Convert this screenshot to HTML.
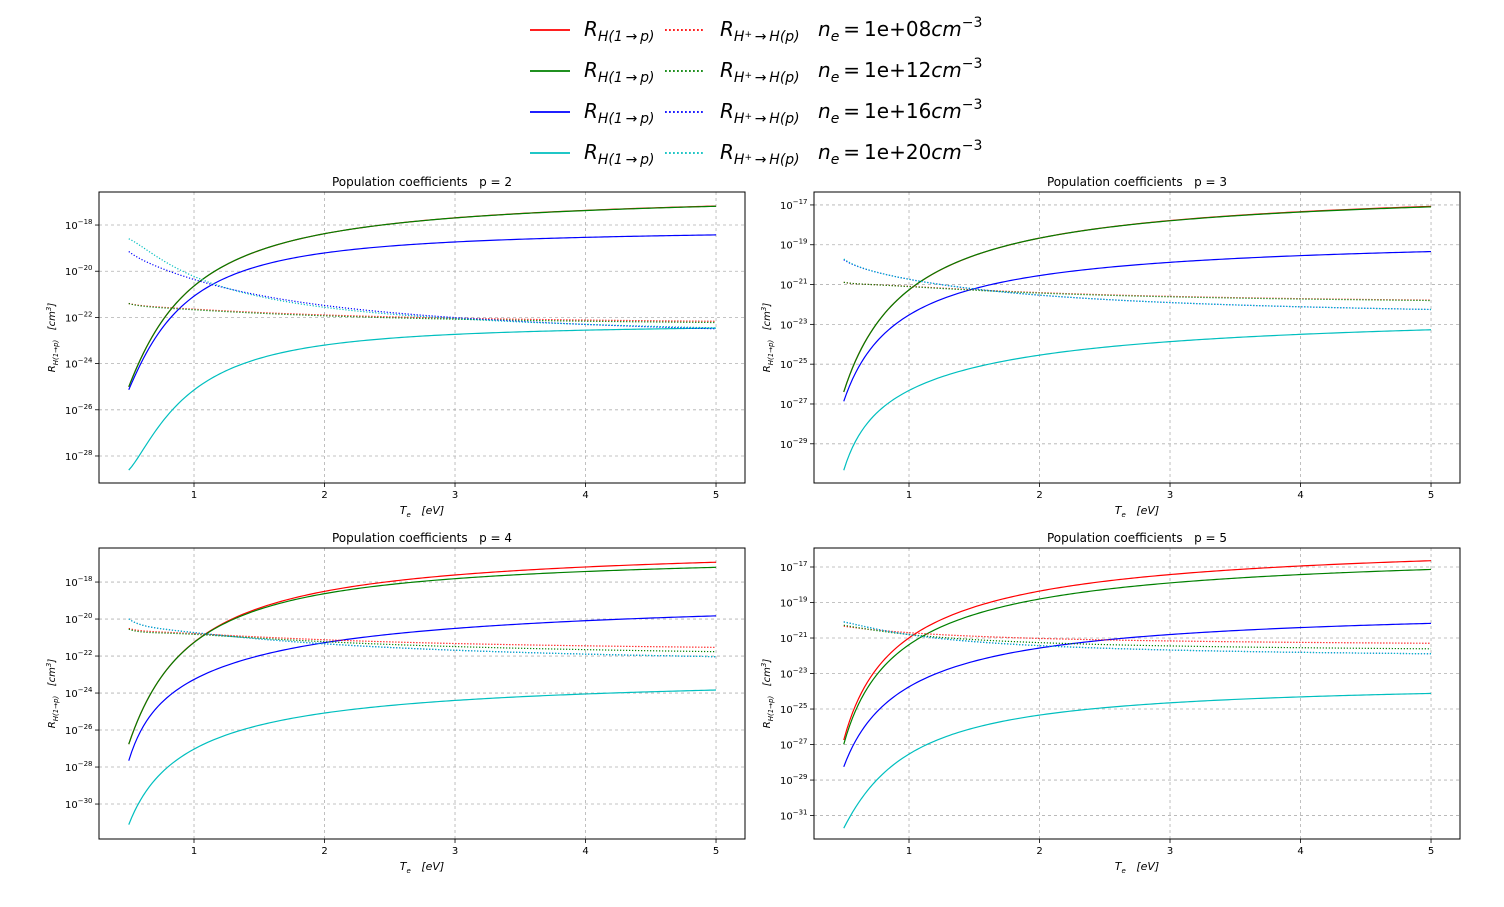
<!DOCTYPE html>
<html><head><meta charset="utf-8">
<style>
body{margin:0;background:#fff;width:1504px;height:907px;overflow:hidden;font-family:"DejaVu Sans","Liberation Sans",sans-serif;}
svg{position:absolute;left:0;top:0}
text{white-space:pre}
</style></head>
<body>
<svg id="chart" width="1504" height="907"></svg>
<script>
const temps = [0.5,0.75,1,1.5,2,3,4,5];
const seriesNames = ["ne-1e08","ne-1e12","ne-1e16","ne-1e20"];
const densityLabels = ["1e+08","1e+12","1e+16","1e+20"];
const pValues = [2,3,4,5];
const xTicks = [1,2,3,4,5];
// log10 values, solid = R_H(1->p), dotted = R_H+->H(p)
const p2Solid = [
 [-25.0,-22.25,-20.56,-19.15,-18.35,-17.75,-17.35,-17.15],
 [-25.0,-22.25,-20.56,-19.15,-18.35,-17.75,-17.35,-17.17],
 [-25.13,-22.54,-21.03,-19.8,-19.2,-18.75,-18.55,-18.4],
 [-28.6,-26.65,-25.03,-23.76,-23.26,-22.8,-22.55,-22.4]];
const p2Dot = [
 [-21.4,-21.55,-21.65,-21.8,-21.9,-22.0,-22.1,-22.2],
 [-21.4,-21.57,-21.68,-21.83,-21.93,-22.05,-22.15,-22.25],
 [-19.15,-19.85,-20.4,-21.0,-21.5,-22.0,-22.3,-22.5],
 [-18.6,-19.44,-20.3,-21.1,-21.53,-22.0,-22.3,-22.5]];
const p3Solid = [
 [-26.38,-23.11,-21.05,-19.6,-18.76,-17.8,-17.3,-17.05],
 [-26.38,-23.11,-21.05,-19.6,-18.76,-17.8,-17.32,-17.08],
 [-26.85,-24.04,-22.28,-21.24,-20.65,-19.95,-19.55,-19.25],
 [-30.32,-27.55,-26.18,-25.2,-24.62,-23.85,-23.5,-23.25]];
const p3Dot = [
 [-20.89,-21.0,-21.1,-21.27,-21.4,-21.58,-21.7,-21.8],
 [-20.89,-21.0,-21.12,-21.29,-21.42,-21.6,-21.72,-21.82],
 [-19.76,-20.32,-20.82,-21.22,-21.49,-21.88,-22.1,-22.3],
 [-19.72,-20.32,-20.82,-21.22,-21.49,-21.88,-22.1,-22.3]];
const p4Solid = [
 [-26.74,-23.33,-20.94,-19.38,-18.75,-17.65,-17.15,-16.85],
 [-26.74,-23.33,-20.96,-19.45,-18.84,-17.9,-17.4,-17.1],
 [-27.64,-24.68,-23.03,-21.99,-21.45,-20.5,-20.05,-19.8],
 [-31.1,-28.45,-26.83,-25.75,-25.2,-24.45,-24.0,-23.8]];
const p4Dot = [
 [-20.51,-20.68,-20.82,-20.98,-21.1,-21.3,-21.45,-21.55],
 [-20.55,-20.72,-20.87,-21.05,-21.2,-21.45,-21.65,-21.8],
 [-20.0,-20.46,-20.82,-21.1,-21.3,-21.6,-21.9,-22.1],
 [-20.0,-20.46,-20.82,-21.1,-21.3,-21.6,-21.9,-22.1]];
const p5Solid = [
 [-26.74,-22.78,-20.95,-19.2,-18.49,-17.35,-16.95,-16.65],
 [-26.98,-23.16,-21.27,-19.67,-18.92,-17.85,-17.4,-17.15],
 [-28.24,-25.32,-23.53,-22.31,-21.75,-20.75,-20.4,-20.15],
 [-31.7,-29.1,-27.4,-26.08,-25.42,-24.65,-24.3,-24.1]];
const p5Dot = [
 [-20.33,-20.55,-20.7,-20.9,-21.03,-21.15,-21.25,-21.3],
 [-20.28,-20.58,-20.8,-21.08,-21.27,-21.45,-21.55,-21.6],
 [-20.09,-20.5,-20.8,-21.2,-21.46,-21.65,-21.8,-21.9],
 [-20.09,-20.5,-20.8,-21.2,-21.46,-21.65,-21.8,-21.9]];
const p2Ticks = [-18,-20,-22,-24,-26,-28];
const p3Ticks = [-17,-19,-21,-23,-25,-27,-29];
const p4Ticks = [-18,-20,-22,-24,-26,-28,-30];
const p5Ticks = [-17,-19,-21,-23,-25,-27,-29,-31];
const colors = ["#ff0000","#008000","#0000ff","#00bfbf"];

const NS="http://www.w3.org/2000/svg";
const svg=document.getElementById('chart');
function mk(tag,attrs,parent){const e=document.createElementNS(NS,tag);for(const k in attrs)e.setAttribute(k,attrs[k]);(parent||svg).appendChild(e);return e;}

const panels=[
 {p:2,x:99,y:192,top:-16.57,bot:-29.17,solid:p2Solid,dot:p2Dot,ticks:p2Ticks},
 {p:3,x:814,y:192,top:-16.35,bot:-30.97,solid:p3Solid,dot:p3Dot,ticks:p3Ticks},
 {p:4,x:99,y:548,top:-16.16,bot:-31.89,solid:p4Solid,dot:p4Dot,ticks:p4Ticks},
 {p:5,x:814,y:548,top:-15.93,bot:-32.32,solid:p5Solid,dot:p5Dot,ticks:p5Ticks}];
const W=646,H=291,XMIN=0.272,XMAX=5.222;

function solve(A,b){
  const n=b.length;const M=A.map((r,i)=>r.concat([b[i]]));
  for(let c=0;c<n;c++){
    let piv=c;for(let r=c+1;r<n;r++)if(Math.abs(M[r][c])>Math.abs(M[piv][c]))piv=r;
    [M[c],M[piv]]=[M[piv],M[c]];
    for(let r=0;r<n;r++){if(r===c)continue;const f=M[r][c]/M[c][c];for(let k=c;k<=n;k++)M[r][k]-=f*M[c][k];}
  }
  return M.map((r,i)=>r[n]/r[i]);
}
function fitPath(ts,vs,sx,sy){
  const deg=3;
  const A=[],b=[];
  for(let i=0;i<=deg;i++){A.push(new Array(deg+1).fill(0));b.push(0);}
  ts.forEach((t,k)=>{const u=1/t;for(let i=0;i<=deg;i++){for(let j=0;j<=deg;j++)A[i][j]+=Math.pow(u,i+j);b[i]+=Math.pow(u,i)*vs[k];}});
  const c=solve(A,b);
  let path="";
  const t0=ts[0],t1=ts[ts.length-1],N=200;
  for(let k=0;k<=N;k++){
    const t=t0+(t1-t0)*k/N,u=1/t;
    let v=0;for(let i=0;i<=deg;i++)v+=c[i]*Math.pow(u,i);
    path+=(k?" L":"M")+sx(t).toFixed(2)+","+sy(v).toFixed(2);
  }
  return path;
}

panels.forEach(P=>{
  const g=mk('g',{});
  
  
  const sx=v=>P.x+(v-XMIN)/(XMAX-XMIN)*W;
  const sy=v=>P.y+(P.top-v)/(P.top-P.bot)*H;
  xTicks.forEach(t=>{
    const l=mk('line',{x1:sx(t),x2:sx(t),y1:P.y,y2:P.y+H,stroke:'#b0b0b0','stroke-dasharray':'3,3','stroke-width':0.8},g);
    
    
    mk('line',{x1:sx(t),x2:sx(t),y1:P.y+H,y2:P.y+H+4,stroke:'#000','stroke-width':0.8},g);
    const tx=mk('text',{x:sx(t),y:P.y+H+15,'font-size':10,'text-anchor':'middle',fill:'#000'},g);
    tx.textContent=t;
    
    
  });
  P.ticks.forEach(t=>{
    const y=sy(t);
    const l=mk('line',{x1:P.x,x2:P.x+W,y1:y,y2:y,stroke:'#b0b0b0','stroke-dasharray':'3,3','stroke-width':0.8},g);
    
    
    mk('line',{x1:P.x-4,x2:P.x,y1:y,y2:y,stroke:'#000','stroke-width':0.8},g);
    const tx=mk('text',{x:P.x-34,y:y+4,'font-size':10,fill:'#000'},g);
    
    
    const a=mk('tspan',{},tx);a.textContent='10';
    const b=mk('tspan',{dy:-5,'font-size':7},tx);b.textContent='\u2212'+Math.abs(t);
  });
  for(let s=0;s<4;s++){
    const pl=mk('path',{d:fitPath(temps,P.solid[s],sx,sy),fill:'none',stroke:colors[s],'stroke-width':1.2},g);
    
    
  }
  for(let s=0;s<4;s++){
    const pl=mk('path',{d:fitPath(temps,P.dot[s],sx,sy),fill:'none',stroke:colors[s],'stroke-width':1.2,'stroke-dasharray':'1.2,1.8'},g);
    
    
  }
  const box=mk('rect',{x:P.x,y:P.y,width:W,height:H,fill:'none',stroke:'#000','stroke-width':1},g);
  
  
  const ti=mk('text',{x:P.x+W/2,y:P.y-6,'font-size':12,'text-anchor':'middle',fill:'#000'},g);
  ti.textContent='Population coefficients   p = '+P.p;
  
  
  const xl=mk('text',{x:P.x+W/2,y:P.y+H+31,'font-size':11,'text-anchor':'middle','font-style':'italic',fill:'#000'},g);
  
  
  const xa=mk('tspan',{},xl);xa.textContent='T';
  const xb=mk('tspan',{dy:3,'font-size':7},xl);xb.textContent='e';
  const xc=mk('tspan',{dy:-3},xl);xc.textContent='   [eV]';
  const cy=P.y+H/2;
  const yl=mk('text',{x:0,y:0,'font-size':10,'text-anchor':'middle','font-style':'italic',fill:'#000',transform:'translate('+(P.x-44)+','+cy+') rotate(-90)'},g);
  
  
  const ya=mk('tspan',{},yl);ya.textContent='R';
  const yb=mk('tspan',{dy:3,'font-size':7},yl);yb.textContent='H(1\u2192p)';
  const yc=mk('tspan',{dy:-3},yl);yc.textContent='   [cm';
  const yd=mk('tspan',{dy:-4,'font-size':7},yl);yd.textContent='3';
  const ye=mk('tspan',{dy:4},yl);ye.textContent=']';
});

const lg=mk('g',{});


const rows=[30,71,112,153];
for(let s=0;s<4;s++){
  const y=rows[s];
  const e=mk('g',{},lg);
  
  
  mk('line',{x1:530,x2:570,y1:y,y2:y,stroke:colors[s],'stroke-width':1.8},e);
  mk('line',{x1:665,x2:705,y1:y,y2:y,stroke:colors[s],'stroke-width':1.8,'stroke-dasharray':'1.8,2.2'},e);
  const t1=mk('text',{x:584,y:y+6,'font-size':20,'font-style':'italic',fill:'#000'},e);
  const a=mk('tspan',{},t1);a.textContent='R';
  const b=mk('tspan',{dy:5,'font-size':14},t1);b.textContent='H(1\u2009\u2192\u2009p)';
  const t2=mk('text',{x:720,y:y+6,'font-size':20,'font-style':'italic',fill:'#000'},e);
  const c=mk('tspan',{},t2);c.textContent='R';
  const d=mk('tspan',{dy:5,'font-size':14},t2);d.textContent='H';
  const d2=mk('tspan',{dy:-4,'font-size':9},t2);d2.textContent='+';
  const d3=mk('tspan',{dy:4,'font-size':14},t2);d3.textContent='\u2009\u2192\u2009H(p)';
  const t3=mk('text',{x:818,y:y+6,'font-size':20,fill:'#000'},e);
  const f=mk('tspan',{'font-style':'italic'},t3);f.textContent='n';
  const g2=mk('tspan',{dy:5,'font-size':14,'font-style':'italic'},t3);g2.textContent='e';
  const h=mk('tspan',{dy:-5},t3);h.textContent='\u2009=\u2009'+densityLabels[s];
  const i2=mk('tspan',{'font-style':'italic'},t3);i2.textContent='cm';
  const j=mk('tspan',{dy:-9,'font-size':14},t3);j.textContent='\u22123';
}
</script>
</body></html>
